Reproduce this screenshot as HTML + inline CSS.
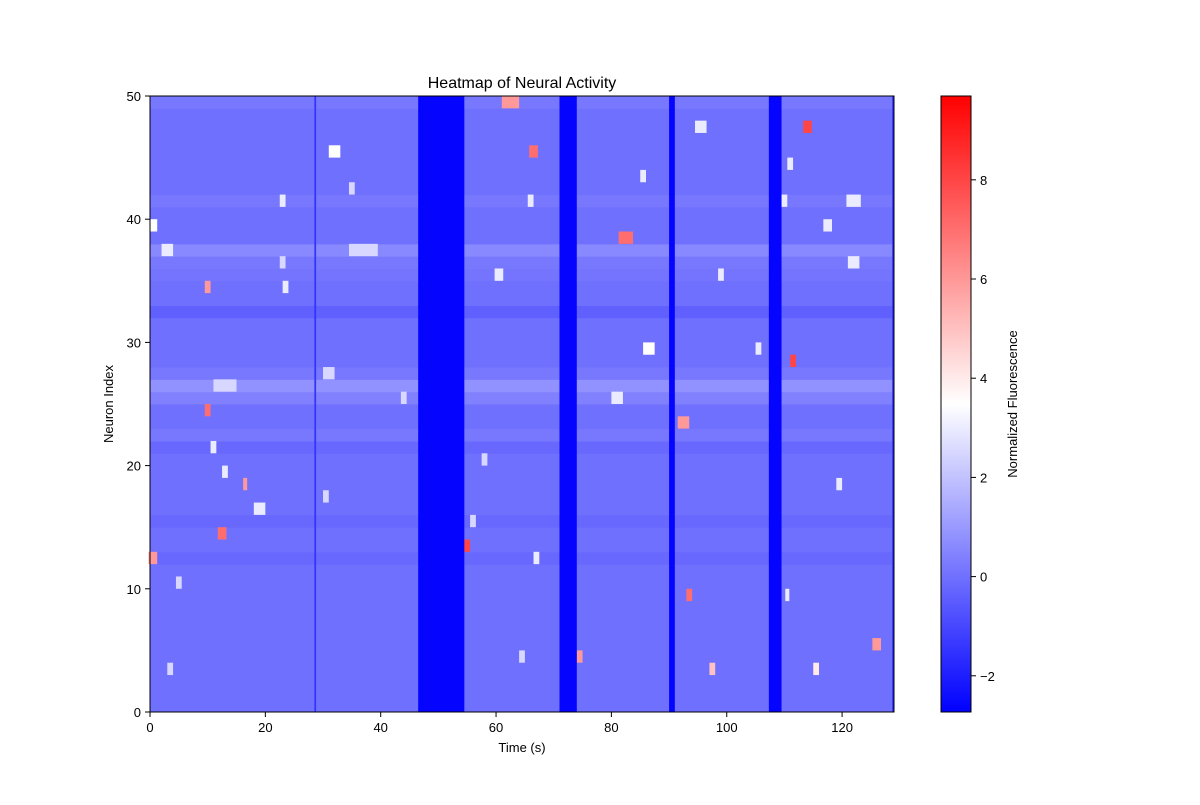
<!DOCTYPE html>
<html><head><meta charset="utf-8"><style>
body{margin:0;background:#fff;font-family:"Liberation Sans",sans-serif;}
svg text{font-family:"Liberation Sans",sans-serif;fill:#000;}
</style></head><body>
<svg id="chart" width="1200" height="800">
<defs><linearGradient id="bwr" x1="0" y1="1" x2="0" y2="0">
<stop offset="0" stop-color="#0000ff"/><stop offset="0.5" stop-color="#ffffff"/><stop offset="1" stop-color="#ff0000"/>
</linearGradient></defs>
<g id="plot"></g>
<g id="axes"></g>
<text x="522" y="88" text-anchor="middle" font-size="16">Heatmap of Neural Activity</text>
<text x="522" y="752" text-anchor="middle" font-size="13">Time (s)</text>
<text x="113" y="404" text-anchor="middle" font-size="13" transform="rotate(-90 113 404)">Neuron Index</text>
<rect x="941" y="96" width="30" height="616" fill="url(#bwr)"/>
<g id="cbar"></g>
<text x="1017" y="404" text-anchor="middle" font-size="13" transform="rotate(-90 1017 404)">Normalized Fluorescence</text>
</svg>
<script>
const xTicks=[0,20,40,60,80,100,120];
const yTicks=[0,10,20,30,40,50];
const cTicks=[-2,0,2,4,6,8];
const rowBaselines=[0,0,0,0,0,0,0,0,0,0,0,0,-0.2,0,0,-0.2,0,0,0,0,0,-0.2,0.2,0,0,0.4,0.8,0.2,0,0,0,0,-0.4,0,0,0.1,0.2,0.6,0,0,0,0.2,0,0,0,0,0,0,0,0.2];
const bandStarts=[28.5,46.5,71,90,107.3,128.7];
const bandEnds=[28.8,54.5,74,91,109.5,129];
const bandValues=[-1.5,-2.6,-2.6,-2.6,-2.6,-1.8];
const spotTimes=[0.5,0.5,10,10,12.5,16.5,13,23,23.5,19,11,5,3,13,37,32,31,30.5,35,62.5,66.5,66,54.5,60.5,67,74.5,82.5,85.5,86.5,81,92.5,93.5,97.5,95.5,99,105.5,111.5,114,111,110,117.5,122,122,126,115.5,119.5,110.5,64.5,56,58,44,23,3.5];
const spotRows=[39,12,34,24,14,18,19,41,34,16,21,10,37,26,37,45,27,17,42,49,45,41,13,35,12,4,38,43,29,25,23,9,3,47,35,29,28,47,44,41,39,41,36,5,3,18,9,4,15,20,25,36,3];
const spotValues=[3.5,6,6,7,7,6,3,3,3,3,3,2.5,3,2.5,2.5,3.5,2.5,2.5,2.5,6,7,3,8,3,3,6,7,3,3.5,3,6,7,5,3,3,3,8,8,3,3,3,3,3,6,4,3,3,2.5,2.5,2.5,2.5,2.5,2.5];
const spotWidths=[1.5,1.5,1,1,1.5,0.7,1,1,1,2,1,1,2,4,5,2,2,1,1,3,1.5,1,2,1.5,1,1,2.5,1,2,2,2,1,1,2,1,1,1,1.5,1,1,1.5,2.5,2,1.5,1,1,0.7,1,1,1,1,1,1];
const X0=150,X1=894,Y0=712,Y1=96,TMAX=129,NMAX=50,VMIN=-2.73,VMAX=9.69;
const xs=t=>X0+(t/TMAX)*(X1-X0);
const ys=n=>Y0-(n/NMAX)*(Y0-Y1);
const cy=v=>Y0-((v-VMIN)/(VMAX-VMIN))*(Y0-Y1);
function col(v){let t=(v-VMIN)/(VMAX-VMIN);t=Math.max(0,Math.min(1,t));let r,g,b;
 if(t<0.5){r=g=Math.round(2*t*255);b=255;}else{r=255;g=b=Math.round((1-t)*2*255);}return `rgb(${r},${g},${b})`;}
const NS='http://www.w3.org/2000/svg';
function mk(tag,attrs,parent){const e=document.createElementNS(NS,tag);for(const k in attrs)e.setAttribute(k,attrs[k]);parent.appendChild(e);return e;}
const plot=document.getElementById('plot');
rowBaselines.forEach((v,i)=>{const r=mk('rect',{x:X0,y:ys(i+1),width:X1-X0,height:ys(i)-ys(i+1)+0.5,fill:col(v)},plot);

});
spotTimes.forEach((t,i)=>{const w=spotWidths[i];const r=mk('rect',{x:xs(t-w/2),y:ys(spotRows[i]+1),width:xs(w)-X0,height:ys(0)-ys(1),fill:col(spotValues[i])},plot);

});
bandStarts.forEach((s,i)=>{const r=mk('rect',{x:xs(s),y:Y1,width:xs(bandEnds[i])-xs(s),height:Y0-Y1,fill:col(bandValues[i])},plot);

});
const ax=document.getElementById('axes');
mk('rect',{x:X0,y:Y1,width:X1-X0,height:Y0-Y1,fill:'none',stroke:'#000','stroke-width':1},ax);
xTicks.forEach(t=>{const x=xs(t);mk('line',{x1:x,x2:x,y1:Y0,y2:Y0+5,stroke:'#000'},ax);
const tx=mk('text',{x:x,y:Y0+20,'text-anchor':'middle','font-size':13},ax);tx.textContent=t;

});
yTicks.forEach(n=>{const y=ys(n);mk('line',{x1:X0-5,x2:X0,y1:y,y2:y,stroke:'#000'},ax);
const tx=mk('text',{x:X0-9,y:y+5,'text-anchor':'end','font-size':13},ax);tx.textContent=n;

});
const cb=document.getElementById('cbar');
mk('rect',{x:941,y:96,width:30,height:616,fill:'none',stroke:'#000'},cb);
cTicks.forEach(v=>{const y=cy(v);mk('line',{x1:971,x2:976,y1:y,y2:y,stroke:'#000'},cb);
const tx=mk('text',{x:980,y:y+5,'font-size':13},cb);tx.textContent=(v<0?'\u2212'+(-v):v);

});
</script>
</body></html>
